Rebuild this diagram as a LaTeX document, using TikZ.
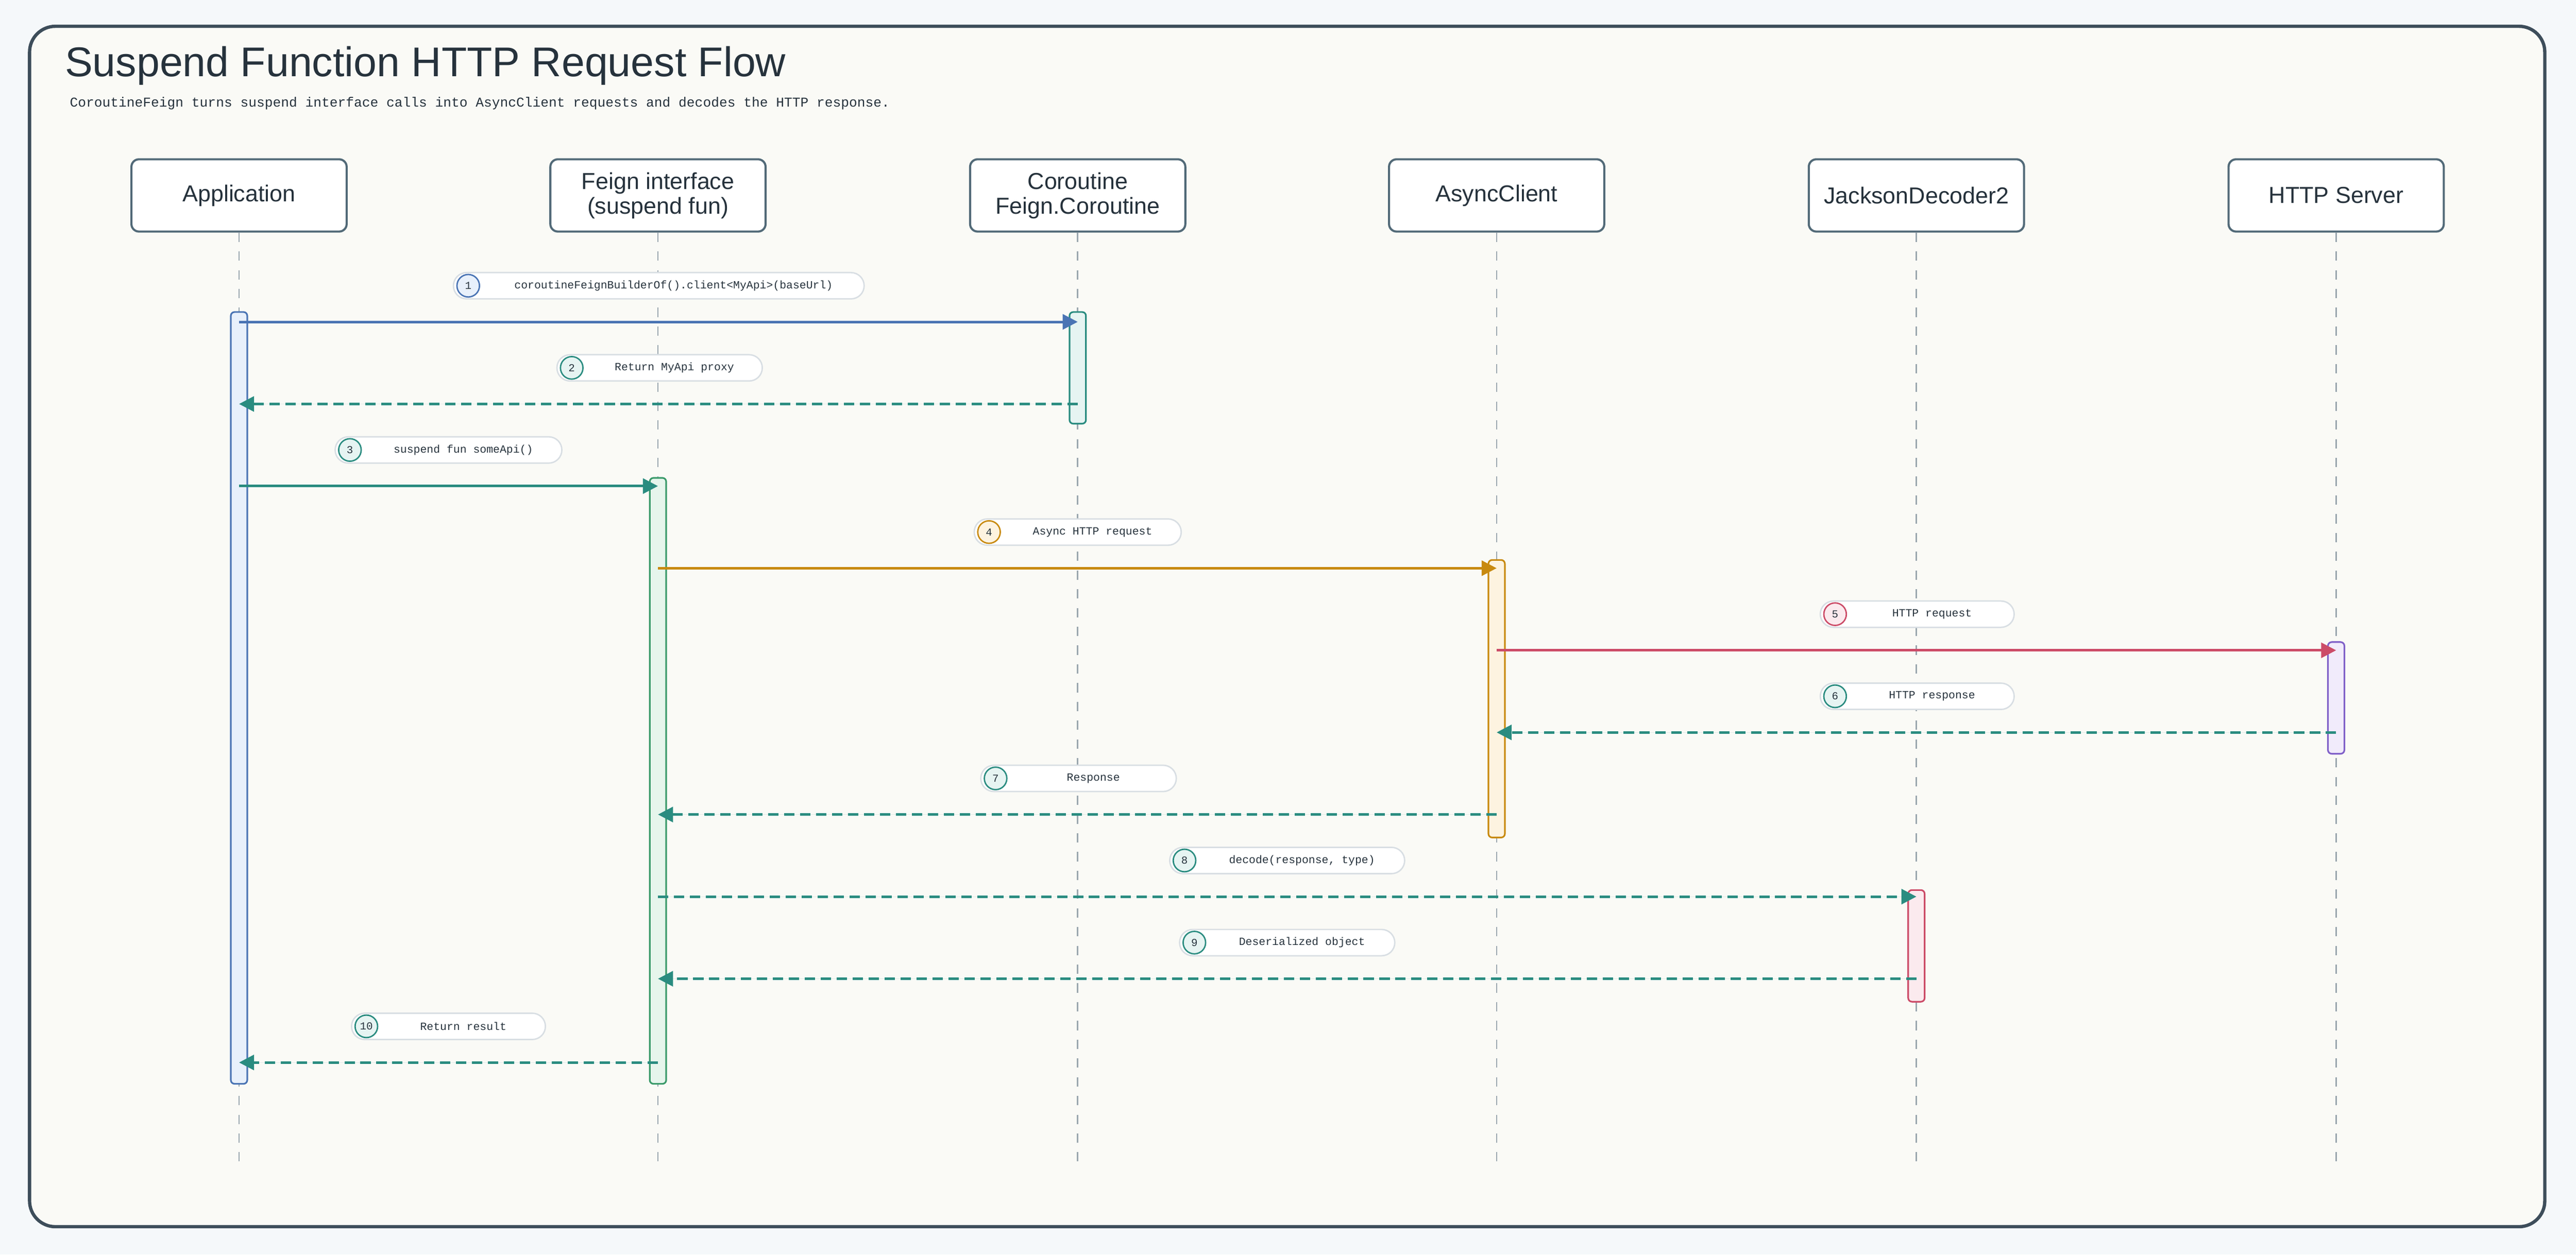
\documentclass[tikz,border=0pt]{standalone}
\usepackage{fontspec}
\setmainfont{Liberation Sans}
\setmonofont{Liberation Mono}
\usetikzlibrary{arrows.meta}
\definecolor{bg}{HTML}{F5F8FA}
\definecolor{paper}{HTML}{FAFAF6}
\definecolor{frame}{HTML}{3D4D5A}
\definecolor{pframe}{HTML}{526A78}
\definecolor{ink}{HTML}{26323C}
\definecolor{lifeg}{HTML}{9AA6AE}
\definecolor{pillb}{HTML}{D8DEE3}
\definecolor{cblue}{HTML}{4A74B4}\definecolor{fblue}{HTML}{E8F0FB}
\definecolor{cteal}{HTML}{2A8C80}\definecolor{fteal}{HTML}{E6F4F2}
\definecolor{cgreen}{HTML}{3A9A6A}\definecolor{fgreen}{HTML}{E6F5EC}
\definecolor{corange}{HTML}{C88A10}\definecolor{forange}{HTML}{FDF3E0}
\definecolor{cred}{HTML}{CC4C68}\definecolor{fred}{HTML}{FBEAEE}
\definecolor{cpurp}{HTML}{8060C8}\definecolor{fpurp}{HTML}{F1EBFB}
\tikzset{
 part/.style={draw=pframe,line width=0.45mm,fill=white,rounded corners=1.6mm,minimum width=131*0.35mm,minimum height=44*0.35mm,font=\fontsize{14}{15}\selectfont,text=ink,align=center,inner sep=0pt},
 life/.style={draw=lifeg,line width=0.3mm,dash pattern=on 2mm off 2mm},
 act/.style={line width=0.35mm,rounded corners=0.8mm},
 pill/.style={draw=pillb,line width=0.3mm,fill=white,rounded corners=2.8mm},
 num/.style={circle,line width=0.3mm,minimum size=4.8mm,inner sep=0pt,font=\ttfamily\fontsize{6.5}{7}\selectfont,text=ink},
 lbl/.style={font=\ttfamily\fontsize{6.7}{8}\selectfont,text=ink},
 sol/.style={line width=0.55mm,-{Triangle[length=3.2mm,width=3.2mm]}},
 dsh/.style={line width=0.55mm,dash pattern=on 2.2mm off 1.2mm,-{Triangle[length=3.2mm,width=3.2mm]}},
}
% \msgstep{n}{y}{from}{to}{style}{color}{fill}{pillL}{pillR}
\newcommand{\msgstep}[9]{%
 \draw[pill] (#8,-#2+22+8) rectangle (#9,-#2+22-8);
 \node[num,draw=#6,fill=#7] (n#1) at (#8+9,-#2+22) {#1};
 \node[lbl] (l#1) at ({(#8+18+#9)/2},-#2+22) {\msglabel};
 \coordinate (s#1) at (#3,-#2);\coordinate (e#1) at (#4,-#2);
 \draw[#5,draw=#6,fill=#6] (s#1) -- (e#1);}
\begin{document}
\begin{tikzpicture}[x=0.35mm,y=0.35mm]
\useasboundingbox (0,0) rectangle (1568,-764);
\fill[bg] (0,0) rectangle (1568,-764);
\draw[frame,fill=paper,line width=0.7mm,rounded corners=5.5mm] (18,-16) rectangle (1549,-747);
\node[anchor=west,text=ink,font=\fontsize{25.2}{28}\selectfont] (title) at (36,-40) {Suspend Function HTTP Request Flow};
\node[anchor=west,text=ink,font=\ttfamily\fontsize{8.2}{10}\selectfont] (sub) at (39,-63) {CoroutineFeign turns suspend interface calls into AsyncClient requests and decodes the HTTP response.};
\foreach \n/\x/\t in {pa/145.5/Application,pf/400.5/{Feign interface\\(suspend fun)},pc/656/{Coroutine\\Feign.Coroutine},pac/911/AsyncClient,pj/1166.5/JacksonDecoder2,ph/1422/HTTP Server}{
 \node[part] (\n) at (\x,-119) {\t};
 \coordinate (\n e) at (\x,-707);
 \draw[life] (\n.south) -- (\n e);}
\draw[act,draw=cblue,fill=fblue] (140.5,-190) rectangle (150.5,-660);
\draw[act,draw=cteal,fill=fteal] (651,-190) rectangle (661,-258);
\draw[act,draw=cgreen,fill=fgreen] (395.5,-291) rectangle (405.5,-660);
\draw[act,draw=corange,fill=forange] (906,-341) rectangle (916,-510);
\draw[act,draw=cpurp,fill=fpurp] (1417,-391) rectangle (1427,-459);
\draw[act,draw=cred,fill=fred] (1161.5,-542) rectangle (1171.5,-610);
\def\msglabel{coroutineFeignBuilderOf().client<MyApi>(baseUrl)}
\msgstep{1}{196}{145.5}{656}{sol}{cblue}{fblue}{276}{526}
\def\msglabel{Return MyApi proxy}
\msgstep{2}{246}{656}{145.5}{dsh}{cteal}{fteal}{339}{464}
\def\msglabel{suspend fun someApi()}
\msgstep{3}{296}{145.5}{400.5}{sol}{cteal}{fteal}{204}{342}
\def\msglabel{Async HTTP request}
\msgstep{4}{346}{400.5}{911}{sol}{corange}{forange}{593}{719}
\def\msglabel{HTTP request}
\msgstep{5}{396}{911}{1422}{sol}{cred}{fred}{1108}{1226}
\def\msglabel{HTTP response}
\msgstep{6}{446}{1422}{911}{dsh}{cteal}{fteal}{1108}{1226}
\def\msglabel{Response}
\msgstep{7}{496}{911}{400.5}{dsh}{cteal}{fteal}{597}{716}
\def\msglabel{decode(response, type)}
\msgstep{8}{546}{400.5}{1166.5}{dsh}{cteal}{fteal}{712}{855}
\def\msglabel{Deserialized object}
\msgstep{9}{596}{1166.5}{400.5}{dsh}{cteal}{fteal}{718}{849}
\def\msglabel{Return result}
\msgstep{10}{647}{400.5}{145.5}{dsh}{cteal}{fteal}{214}{332}
\end{tikzpicture}
\end{document}
